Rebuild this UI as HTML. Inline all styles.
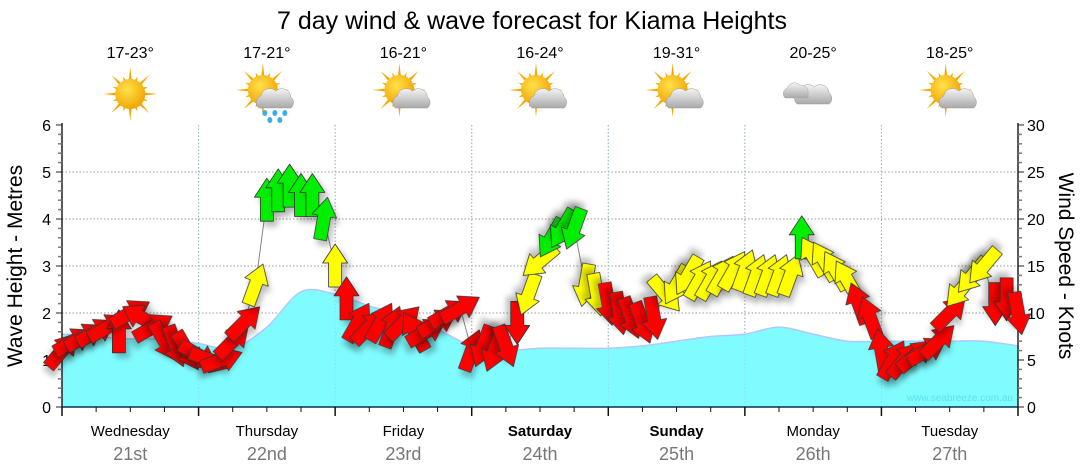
<!DOCTYPE html>
<html><head><meta charset="utf-8">
<style>
html,body{margin:0;padding:0;background:#fff;}
svg{display:block;font-family:"Liberation Sans",sans-serif;}
</style></head>
<body>
<svg id="chart" width="1080" height="475" viewBox="0 0 1080 475">
<defs>
<filter id="shadow" x="-50%" y="-50%" width="200%" height="200%"><feDropShadow dx="4" dy="5" stdDeviation="3" flood-color="#000" flood-opacity="0.25"/></filter>
<radialGradient id="sunG" cx="40%" cy="35%" r="70%"><stop offset="0" stop-color="#ffe24a"/><stop offset="1" stop-color="#f2a100"/></radialGradient>
<linearGradient id="cloudG" x1="0" y1="0" x2="0" y2="1"><stop offset="0" stop-color="#f4f4f4"/><stop offset="1" stop-color="#a9a9a9"/></linearGradient>
</defs>
<text x="532" y="29" text-anchor="middle" font-size="25" fill="#000">7 day wind &amp; wave forecast for Kiama Heights</text>
<g id="grid"></g>
<g id="wave"></g>
<g id="axes"></g>
<g id="wind"></g>
<g id="topg"></g>
<text x="1013" y="401" text-anchor="end" font-size="10" fill="#5fe0e6">www.seabreeze.com.au</text>
<text transform="translate(22,266) rotate(-90)" text-anchor="middle" font-size="21" fill="#000">Wave Height - Metres</text>
<text transform="translate(1059,266) rotate(90)" text-anchor="middle" font-size="21" fill="#000">Wind Speed - Knots</text>
</svg>
<script>
const days = ["Wednesday","Thursday","Friday","Saturday","Sunday","Monday","Tuesday"];
const dates = ["21st","22nd","23rd","24th","25th","26th","27th"];
const temps = ["17-23°","17-21°","16-21°","16-24°","19-31°","20-25°","18-25°"];
const weather = ["sun","rain","partly","partly","partly","cloud","partly"];
const boldDays = [false,false,false,true,true,false,false];
// wave heights (m), every 6 hours
const waveHeights = [1.55,1.5,1.45,1.45, 1.35,1.25,1.7,2.45, 2.4,2.15,1.95,1.65, 1.3,1.2,1.25,1.25, 1.25,1.3,1.4,1.5, 1.55,1.7,1.55,1.4, 1.4,1.4,1.4,1.4,1.3];
// wind speed (knots), every 2 hours
const windSpeeds = [6,7,7.5,8,8.5,8,10,9.5,8.5,7,6.5,6,
 5.5,5,5,7,9,13,22,23,23.5,22.5,22.5,20,
 15,11.5,9,8.5,9,8.5,9,8,8,9,10,10.5,
 6,6.5,6,6.5,9,12,15.5,18,19,19,13,12,
 11,10,9.5,9,9.5,12,13,14,13.5,13.5,14,14.5,
 14.5,14,14,14,14,18,16,15.5,14.5,13.5,11,9.5,
 6,5,5,5.5,6,7,10,12.5,14,15,11,11.5,10];
// wind arrow heading (degrees, 0 = pointing up)
const windDirs = [40,60,60,60,60,0,60,300,60,150,160,150,
 120,110,70,45,45,20,0,0,0,0,0,10,
 0,0,30,45,30,20,45,330,60,60,60,60,
 20,200,200,160,180,200,230,210,210,200,190,170,
 170,170,160,160,170,140,210,210,30,30,30,30,
 20,20,20,20,20,0,330,330,330,330,340,340,
 350,30,40,50,60,45,45,220,220,220,180,180,170];
const leftTicks = [0,1,2,3,4,5,6];
const rightTicks = [0,5,10,15,20,25,30];

const NS="http://www.w3.org/2000/svg";
const X0=62,X1=1018,Y0=407,Y1=125,HOURS=168;
const xT=h=>X0+(X1-X0)*h/HOURS;
const yM=m=>Y0-(Y0-Y1)*m/6;
const yK=k=>Y0-(Y0-Y1)*k/30;
function mk(tag,attrs,parent){const e=document.createElementNS(NS,tag);for(const k in attrs)e.setAttribute(k,attrs[k]);parent.appendChild(e);return e;}
const gridG=document.getElementById('grid'),axesG=document.getElementById('axes'),waveG=document.getElementById('wave'),windG=document.getElementById('wind'),topG=document.getElementById('topg');

for(let m=1;m<=5;m++){const l=mk('line',{x1:X0,x2:X1,y1:yM(m),y2:yM(m),stroke:'#999','stroke-dasharray':'1.5,2','stroke-width':1},gridG);

}
for(let k=1;k<7;k++){const l=mk('line',{x1:xT(k*24),x2:xT(k*24),y1:Y1,y2:Y0,stroke:'#999','stroke-dasharray':'1.5,2','stroke-width':1},gridG);

}

const pts=waveHeights.map((v,i)=>[xT(i*6),yM(v)]);
let pathD=`M${pts[0][0]},${pts[0][1]}`;
for(let i=0;i<pts.length-1;i++){const p0=pts[Math.max(0,i-1)],p1=pts[i],p2=pts[i+1],p3=pts[Math.min(pts.length-1,i+2)];
pathD+=` C${p1[0]+(p2[0]-p0[0])/6},${p1[1]+(p2[1]-p0[1])/6} ${p2[0]-(p3[0]-p1[0])/6},${p2[1]-(p3[1]-p1[1])/6} ${p2[0]},${p2[1]}`;}
const area=mk('path',{d:pathD+` L${X1},${Y0} L${X0},${Y0} Z`,fill:'#80fcff',stroke:'none'},waveG);


const wl=mk('path',{d:pathD,fill:'none',stroke:'#b0c8ff','stroke-width':1.5},waveG);


for(let k=1;k<7;k++){mk('line',{x1:xT(k*24),x2:xT(k*24),y1:Y1,y2:Y0,stroke:'#9cd','stroke-dasharray':'1.5,2','stroke-width':1,opacity:0.6},waveG);}

let a=mk('line',{x1:X0,x2:X0,y1:Y1-2,y2:Y0,stroke:'#222','stroke-width':1.5},axesG);


a=mk('line',{x1:X1,x2:X1,y1:Y1-2,y2:Y0,stroke:'#222','stroke-width':1.5},axesG);


a=mk('line',{x1:X0,x2:X1,y1:Y0,y2:Y0,stroke:'#0a3050','stroke-width':1.5},axesG);


for(let k=0;k<=30;k++){const y=yK(k);const maj=k%5===0;
mk('line',{x1:X0-(maj?6:4),x2:X0,y1:y,y2:y,stroke:maj?'#222':'#777','stroke-width':maj?1:1.5},axesG);
mk('line',{x1:X1,x2:X1+(maj?6:4),y1:y,y2:y,stroke:maj?'#222':'#777','stroke-width':maj?1:1.5},axesG);}
leftTicks.forEach(v=>{const t=mk('text',{x:51,y:yM(v)+6,'text-anchor':'end','font-size':16,fill:'#000'},axesG);t.textContent=v;

});
rightTicks.forEach(v=>{const t=mk('text',{x:1027,y:yK(v)+6,'text-anchor':'start','font-size':16,fill:'#000'},axesG);t.textContent=v;

});
for(let h=0;h<=HOURS;h+=6){const maj=h%24===0;mk('line',{x1:xT(h),x2:xT(h),y1:Y0,y2:Y0+(maj?9:5),stroke:'#111','stroke-width':maj?1.5:1},axesG);}
days.forEach((n,i)=>{const cx=xT(i*24+12);
let t=mk('text',{x:cx,y:436,'text-anchor':'middle','font-size':15,fill:'#000','font-weight':boldDays[i]?'bold':'normal'},axesG);t.textContent=n;


t=mk('text',{x:cx,y:460,'text-anchor':'middle','font-size':18,fill:'#777'},axesG);t.textContent=dates[i];


t=mk('text',{x:cx,y:58,'text-anchor':'middle','font-size':16,fill:'#000'},topG);t.textContent=temps[i];


const g=mk('g',{transform:`translate(${cx},${94})`},topG);


const w=weather[i];
if(w!=='cloud'){const sx=w==='sun'?0:-4,sy=w==='sun'?0:-4;
 for(let r=0;r<16;r++){const ang=r*Math.PI/8;const L=r%2?19:27;
  mk('polygon',{points:`${sx+Math.cos(ang-0.12)*13},${sy+Math.sin(ang-0.12)*13} ${sx+Math.cos(ang)*L},${sy+Math.sin(ang)*L} ${sx+Math.cos(ang+0.12)*13},${sy+Math.sin(ang+0.12)*13}`,fill:'#f5a800'},g);}
 mk('circle',{cx:sx,cy:sy,r:15,fill:'url(#sunG)'},g);}
if(w!=='sun'){const ox=w==='cloud'?0:8,oy=w==='cloud'?0:4;
 mk('path',{d:`M${ox-16},${oy+10} a7,7 0 0 1 2,-12 a9,9 0 0 1 15,-5 a9,9 0 0 1 15,6 a7,7 0 0 1 0,11 Z`,fill:'url(#cloudG)',stroke:'#999','stroke-width':0.5},g);
 if(w==='cloud'){mk('path',{d:`M-28,4 a6,6 0 0 1 2,-10 a8,8 0 0 1 13,-3 a7,7 0 0 1 8,6 l0,7 Z`,fill:'url(#cloudG)',stroke:'#aaa','stroke-width':0.5},g);}
 if(w==='rain'){[[-4,15],[6,15],[16,15],[1,22],[11,22]].forEach(p=>mk('ellipse',{cx:ox+p[0]-6,cy:oy+p[1],rx:2.5,ry:3,fill:'#3ab0e8'},g));}
}
});

const wp=windSpeeds.map((v,i)=>`${xT(i*2)},${yK(v)}`).join(' ');
const cl=mk('polyline',{points:wp,fill:'none',stroke:'#888','stroke-width':1},windG);


windSpeeds.forEach((v,i)=>{const col=v<11.8?'#ff0000':(v<17.5?'#ffff00':'#00ee00');
const g=mk('g',{transform:`translate(${xT(i*2)},${yK(v)}) rotate(${windDirs[i]})`,filter:'url(#shadow)'},windG);


mk('polygon',{points:'0,-22 -12.5,-3 -6.5,-3 -6.5,21 6.5,21 6.5,-3 12.5,-3',fill:col,stroke:'#333','stroke-width':0.8,'stroke-linejoin':'round'},g);
});
</script>
</body></html>
